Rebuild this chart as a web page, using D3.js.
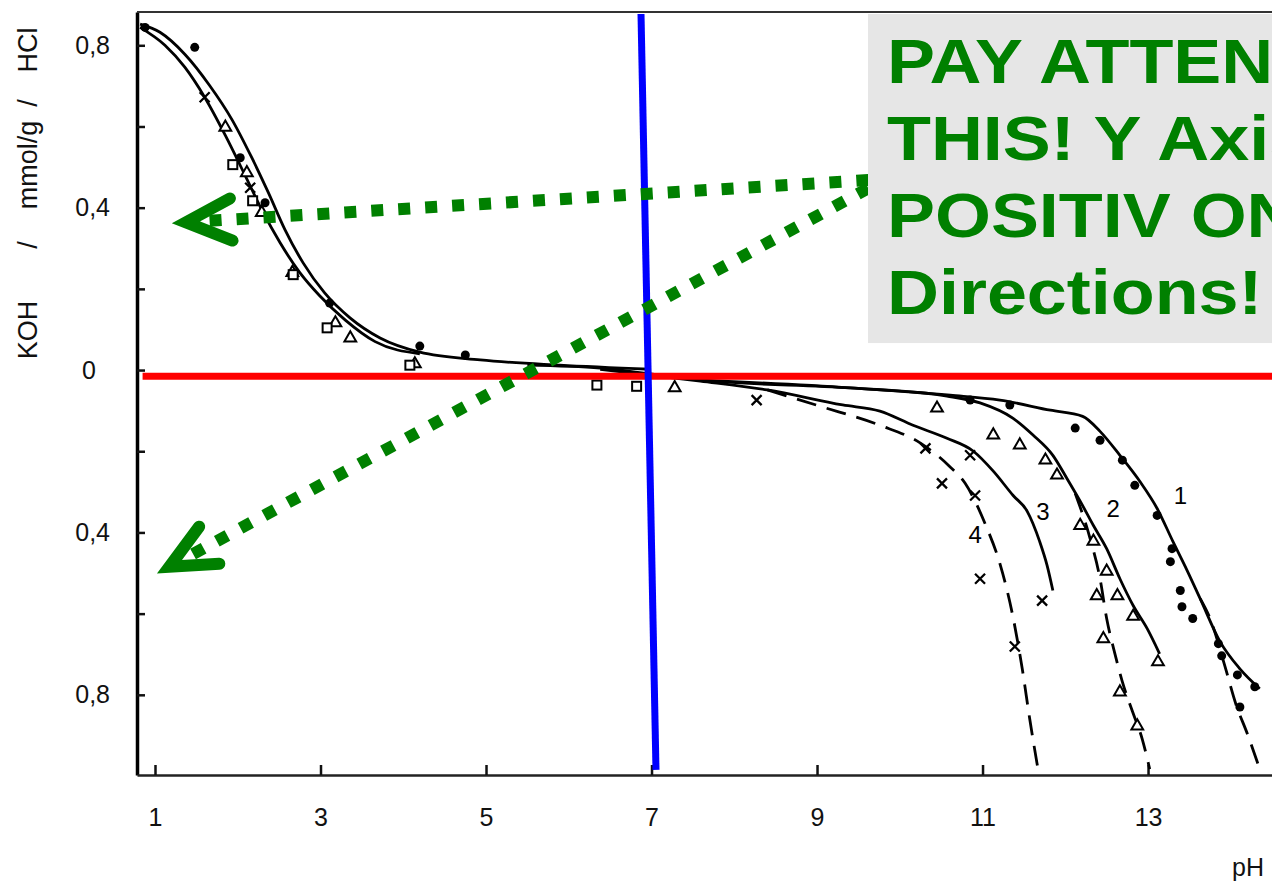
<!DOCTYPE html>
<html><head><meta charset="utf-8">
<script src="https://cdn.jsdelivr.net/npm/d3@7"></script>
<style>
html,body{margin:0;padding:0;background:#fff;}
svg{display:block;}
</style></head><body>
<svg id="chart" width="1272" height="881"></svg>
<script>
// ---------- data (pH, mmol/g ; positive = HCl upward, negative = KOH downward) ----------
const xTicks = [1, 3, 5, 7, 9, 11, 13];
const yTicks = [-0.8, -0.6, -0.4, -0.2, 0, 0.2, 0.4, 0.6, 0.8];
const yLabelled = [-0.8, -0.4, 0, 0.4, 0.8];
const yTitleParts = ["HCl", "/", "mmol/g", "/", "KOH"];
const xTitle = "pH";

const acidOuter = [[0.82,0.852],[1.06,0.832],[1.36,0.778],[1.66,0.701],[1.93,0.617],[2.17,0.523],[2.37,0.437],[2.57,0.346],[2.79,0.264],[3.05,0.190],[3.36,0.128],[3.72,0.079],[4.20,0.044],[4.93,0.025],[5.89,0.012],[6.98,0.002]];
const acidInner = [[0.82,0.844],[1.12,0.800],[1.36,0.746],[1.60,0.672],[1.85,0.578],[2.09,0.479],[2.29,0.395],[2.51,0.314],[2.75,0.240],[2.99,0.183],[3.30,0.123],[3.66,0.070],[4.20,0.040]];
const base1 = [[5.5,0.012],[6.38,0.005],[7.59,-0.025],[9.40,-0.044],[10.61,-0.062],[11.21,-0.074],[11.82,-0.099],[12.21,-0.114],[12.42,-0.151],[12.66,-0.210],[12.90,-0.274],[13.11,-0.341],[13.30,-0.422],[13.45,-0.484],[13.63,-0.563],[13.87,-0.669],[14.11,-0.736],[14.35,-0.785]];
const base2 = [[7.59,-0.025],[9.40,-0.044],[10.57,-0.064],[10.97,-0.081],[11.37,-0.119],[11.61,-0.160],[11.85,-0.210],[12.02,-0.267],[12.18,-0.323],[12.34,-0.383],[12.50,-0.440],[12.66,-0.514],[12.82,-0.580],[12.99,-0.637],[13.14,-0.699]];
const base3 = [[6.38,0.002],[7.59,-0.027],[8.40,-0.049],[9.31,-0.086],[9.76,-0.101],[10.16,-0.136],[10.57,-0.168],[10.89,-0.200],[11.13,-0.249],[11.37,-0.309],[11.54,-0.348],[11.69,-0.422],[11.78,-0.481],[11.85,-0.543]];
const dashed4 = [[8.40,-0.049],[9.05,-0.090],[9.76,-0.136],[10.25,-0.180],[10.59,-0.235],[10.79,-0.279],[11.03,-0.378],[11.21,-0.477],[11.36,-0.600],[11.48,-0.736],[11.57,-0.859],[11.67,-0.983]];
const dashed2 = [[12.12,-0.304],[12.30,-0.415],[12.42,-0.514],[12.50,-0.612],[12.60,-0.699],[12.69,-0.768],[12.81,-0.840],[12.93,-0.909],[13.02,-0.983]];
const dashed1 = [[13.63,-0.563],[13.75,-0.612],[13.92,-0.723],[14.06,-0.822],[14.20,-0.896],[14.35,-0.983]];

const dotsFilled = [[0.88,0.844],[1.48,0.795],[2.03,0.523],[2.33,0.412],[3.11,0.165],[4.20,0.059],[4.75,0.037],[10.85,-0.074],[11.33,-0.086],[12.12,-0.143],[12.42,-0.173],[12.69,-0.222],[12.84,-0.284],[13.11,-0.358],[13.29,-0.440],[13.27,-0.472],[13.39,-0.543],[13.41,-0.583],[13.54,-0.612],[13.85,-0.674],[13.89,-0.704],[14.08,-0.751],[14.11,-0.830],[14.29,-0.780]];
const triangles = [[1.85,0.598],[2.11,0.486],[2.29,0.388],[2.66,0.240],[3.18,0.116],[3.36,0.079],[4.14,0.015],[7.28,-0.044],[10.45,-0.094],[11.13,-0.160],[11.45,-0.185],[11.76,-0.222],[11.90,-0.259],[12.18,-0.383],[12.34,-0.422],[12.50,-0.496],[12.38,-0.556],[12.63,-0.556],[12.82,-0.607],[13.12,-0.719],[12.46,-0.662],[12.66,-0.793],[12.87,-0.877]];
const crosses = [[1.60,0.672],[2.15,0.449],[8.27,-0.074],[10.31,-0.193],[10.51,-0.279],[10.85,-0.210],[10.91,-0.309],[10.97,-0.514],[11.72,-0.568],[11.39,-0.681]];
const squares = [[1.94,0.506],[2.18,0.417],[2.67,0.235],[3.08,0.104],[4.08,0.012],[6.34,-0.037],[6.82,-0.040]];
const curveLabels = [["1",13.39,-0.309],["2",12.58,-0.341],["3",11.73,-0.348],["4",10.91,-0.405]];

// annotations (data units)
const redLine = [[0.85,-0.015],[14.5,-0.015]];
const blueLine = [[6.873,0.877],[7.054,-0.985]];
const arrowStart1 = [9.62,0.468], arrowTip1 = [1.2175,0.362];
const arrowStart2 = [9.62,0.448], arrowTip2 = [1.036,-0.50];
const noteBox = [[9.616,0.877],[14.6,0.0665]];
const noteLines = ["PAY ATTENTION TO", "THIS! Y Axis is", "POSITIV ON BOTH", "Directions!"];

// ---------- drawing ----------
const svg = d3.select('#chart');
const x = d3.scaleLinear().domain([0.7825, 14.498]).range([137, 1272]);
const y = d3.scaleLinear().domain([-0.9975, 0.882]).range([775, 12]);
const line = d3.line().x(d => x(d[0])).y(d => y(d[1])).curve(d3.curveMonotoneX);
const tickFont = '"Liberation Sans", Arial, sans-serif';

// axes
const fmt = d => yLabelled.some(v => Math.abs(v - d) < 1e-9) ? (Math.abs(d) < 1e-9 ? '0' : '0,' + Math.round(Math.abs(d) * 10)) : '';
const gy = svg.append('g').attr('transform', `translate(${x.range()[0]},0)`)
  .call(d3.axisLeft(y).tickValues(yTicks).tickSizeInner(-8).tickSizeOuter(0).tickPadding(27).tickFormat(fmt));
gy.select('.domain').attr('stroke', '#000').attr('stroke-width', 3.5);
gy.selectAll('.tick line').attr('stroke', '#111').attr('stroke-width', 2.5);
gy.selectAll('.tick text').attr('font-family', tickFont).attr('font-size', 25).attr('fill', '#111')
  .attr('dx', d => Math.abs(d) < 1e-9 ? -14 : 0);

const gx = svg.append('g').attr('transform', `translate(0,${y.range()[0]})`)
  .call(d3.axisBottom(x).tickValues(xTicks).tickSizeInner(-10).tickSizeOuter(0).tickPadding(33).tickFormat(d3.format('d')));
gx.select('.domain').attr('stroke', '#222').attr('stroke-width', 2.5);
gx.selectAll('.tick line').attr('stroke', '#111').attr('stroke-width', 2.5);
gx.selectAll('.tick text').attr('font-family', tickFont).attr('font-size', 25).attr('fill', '#111');

// top frame
svg.append('line').attr('x1', x.range()[0]).attr('x2', x.range()[1])
  .attr('y1', y.range()[1]).attr('y2', y.range()[1]).attr('stroke', '#333').attr('stroke-width', 2);

// axis titles
const titleY = [50, 103, 165, 245, 330];
yTitleParts.forEach((t, i) => {
  svg.append('text').attr('x', 28).attr('y', titleY[i])
    .attr('transform', `rotate(-90,28,${titleY[i]})`)
    .attr('text-anchor', 'middle').attr('dominant-baseline', 'central')
    .attr('font-family', tickFont).attr('font-size', 27).attr('fill', '#111').text(t);
});
svg.append('text').attr('x', 1232).attr('y', 876).attr('font-family', tickFont)
  .attr('font-size', 25).attr('fill', '#111').text(xTitle);

// curves
const plot = svg.append('g');
[acidOuter, acidInner, base1, base2, base3].forEach(s => {
  plot.append('path').attr('d', line(s)).attr('fill', 'none').attr('stroke', '#000').attr('stroke-width', 2.8);
});
[dashed4, dashed2, dashed1].forEach(s => {
  plot.append('path').attr('d', line(s)).attr('fill', 'none').attr('stroke', '#000')
    .attr('stroke-width', 2.8).attr('stroke-dasharray', '20 11');
});

// markers
plot.selectAll('circle.m').data(dotsFilled).join('circle').attr('class', 'm')
  .attr('cx', d => x(d[0])).attr('cy', d => y(d[1])).attr('r', 4.5).attr('fill', '#000');
const tri = d3.symbol().type(d3.symbolTriangle).size(60);
plot.selectAll('path.t').data(triangles).join('path').attr('class', 't')
  .attr('transform', d => `translate(${x(d[0])},${y(d[1])})`).attr('d', tri)
  .attr('fill', '#fff').attr('stroke', '#000').attr('stroke-width', 2);
plot.selectAll('rect.s').data(squares).join('rect').attr('class', 's')
  .attr('x', d => x(d[0]) - 4.5).attr('y', d => y(d[1]) - 4.5).attr('width', 9).attr('height', 9)
  .attr('fill', '#fff').attr('stroke', '#000').attr('stroke-width', 2);
plot.selectAll('path.x').data(crosses).join('path').attr('class', 'x')
  .attr('d', d => { const cx = x(d[0]), cy = y(d[1]), r = 5;
    return `M${cx-r},${cy-r}L${cx+r},${cy+r}M${cx-r},${cy+r}L${cx+r},${cy-r}`; })
  .attr('stroke', '#000').attr('stroke-width', 2.3);
plot.selectAll('text.cl').data(curveLabels).join('text').attr('class', 'cl')
  .attr('x', d => x(d[1])).attr('y', d => y(d[2])).attr('text-anchor', 'middle')
  .attr('dominant-baseline', 'central').attr('font-family', tickFont).attr('font-size', 24)
  .attr('fill', '#000').text(d => d[0]);

// red & blue lines
svg.append('line').attr('x1', x(redLine[0][0])).attr('y1', y(redLine[0][1]))
  .attr('x2', x(redLine[1][0])).attr('y2', y(redLine[1][1])).attr('stroke', '#ff0000').attr('stroke-width', 7);
svg.append('line').attr('x1', x(blueLine[0][0])).attr('y1', y(blueLine[0][1]))
  .attr('x2', x(blueLine[1][0])).attr('y2', y(blueLine[1][1])).attr('stroke', '#0000ff').attr('stroke-width', 7);

// green dotted arrows
const green = '#008000';
function arrow(from, tip) {
  const x0 = x(from[0]), y0 = y(from[1]), tx = x(tip[0]), ty = y(tip[1]);
  let ux = x0 - tx, uy = y0 - ty; const len = Math.hypot(ux, uy); ux /= len; uy /= len;
  const vx = tx + 13 * ux, vy = ty + 13 * uy;
  svg.append('line').attr('x1', x0).attr('y1', y0).attr('x2', vx + 10 * ux).attr('y2', vy + 10 * uy)
    .attr('stroke', green).attr('stroke-width', 12).attr('stroke-dasharray', '12 15');
  const a = 25 * Math.PI / 180, L = 50;
  const rot = s => [ux * Math.cos(s * a) - uy * Math.sin(s * a), ux * Math.sin(s * a) + uy * Math.cos(s * a)];
  const [ax, ay] = rot(1), [bx, by] = rot(-1);
  svg.append('path').attr('d', `M${vx + L * ax},${vy + L * ay}L${vx},${vy}L${vx + L * bx},${vy + L * by}`)
    .attr('fill', 'none').attr('stroke', green).attr('stroke-width', 12)
    .attr('stroke-linecap', 'round').attr('stroke-linejoin', 'miter').attr('stroke-miterlimit', 6);
}
arrow(arrowStart1, arrowTip1);
arrow(arrowStart2, arrowTip2);

// note box (text runs past the right edge, as in the reference)
const bx0 = x(noteBox[0][0]), by0 = y(noteBox[0][1]), bx1 = x(noteBox[1][0]), by1 = y(noteBox[1][1]);
svg.append('rect').attr('x', bx0).attr('y', by0).attr('width', bx1 - bx0).attr('height', by1 - by0).attr('fill', '#e6e6e6');
const tg = svg.append('g').attr('transform', `translate(${bx0 + 19},0) scale(1.16,1)`);
noteLines.forEach((t, i) => {
  tg.append('text').attr('x', 0).attr('y', 83 + i * 77)
    .attr('font-family', '"Liberation Sans", Arial, sans-serif').attr('font-weight', 'bold')
    .attr('font-size', 62).attr('fill', green).text(t);
});
</script>
</body></html>
